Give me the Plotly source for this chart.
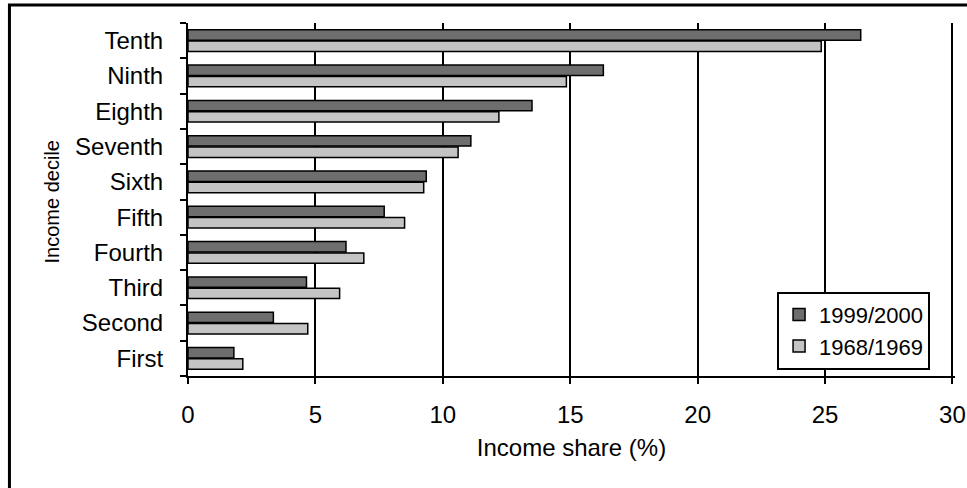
import plotly.graph_objects as go

deciles = ["First", "Second", "Third", "Fourth", "Fifth", "Sixth", "Seventh", "Eighth", "Ninth", "Tenth"]
share_1999 = [1.8, 3.35, 4.65, 6.2, 7.7, 9.35, 11.1, 13.5, 16.3, 26.4]
share_1968 = [2.15, 4.7, 5.95, 6.9, 8.5, 9.25, 10.6, 12.2, 14.85, 24.85]
x_ticks = [0, 5, 10, 15, 20, 25, 30]

FONT = "Liberation Sans, Arial, sans-serif"

fig = go.Figure()
fig.add_trace(go.Bar(
    y=deciles, x=share_1968, orientation="h", name="1968/1969",
    marker=dict(color="#c4c4c4", line=dict(color="black", width=1.5)),
))
fig.add_trace(go.Bar(
    y=deciles, x=share_1999, orientation="h", name="1999/2000",
    marker=dict(color="#6e6e6e", line=dict(color="black", width=1.5)),
))

fig.update_layout(
    width=967, height=488,
    margin=dict(l=188, r=12, t=23, b=112, autoexpand=False),
    paper_bgcolor="white", plot_bgcolor="white",
    barmode="group", bargap=0.36, bargroupgap=0.08,
    font=dict(family=FONT, size=24, color="black"),
    showlegend=True,
    legend=dict(
        x=0.768, y=0.239, xanchor="left", yanchor="top",
        traceorder="reversed",
        bordercolor="black", borderwidth=2, bgcolor="white",
        font=dict(family=FONT, size=22, color="black"),
        itemwidth=30, tracegroupgap=0,
    ),
    xaxis=dict(
        range=[0, 30.1], tickvals=x_ticks, ticktext=[str(v) for v in x_ticks],
        automargin=False, ticklabeloverflow="allow",
        showgrid=True, gridcolor="black", gridwidth=2,
        showline=True, linecolor="black", linewidth=2,
        ticks="outside", ticklen=6, tickwidth=2, tickcolor="black",
        ticklabelstandoff=10,
        zeroline=False,
        title=dict(text="Income share (%)", font=dict(family=FONT, size=24), standoff=12),
    ),
    yaxis=dict(
        type="category", categoryorder="array", categoryarray=deciles,
        automargin=False,
        showline=True, linecolor="black", linewidth=2,
        ticks="outside", ticklen=6, tickwidth=2, tickcolor="black",
        tickson="boundaries", ticklabelstandoff=18,
        showgrid=False, zeroline=False,
    ),
    shapes=[
        dict(
            type="rect", xref="paper", yref="paper",
            x0=-0.2328, x1=1.03, y0=-0.36, y1=1.051,
            line=dict(color="black", width=3), fillcolor="rgba(0,0,0,0)", layer="above",
        ),
    ],
    annotations=[dict(
        text="Income decile", xref="paper", yref="paper",
        x=-0.178, y=0.493, xanchor="center", yanchor="middle",
        showarrow=False, textangle=-90,
        font=dict(family=FONT, size=20, color="black"),
    )],
)

fig.write_html(
    "out.html",
    config={"displayModeBar": False},
    post_script="document.body.style.margin='0';document.body.style.overflow='hidden';",
)
